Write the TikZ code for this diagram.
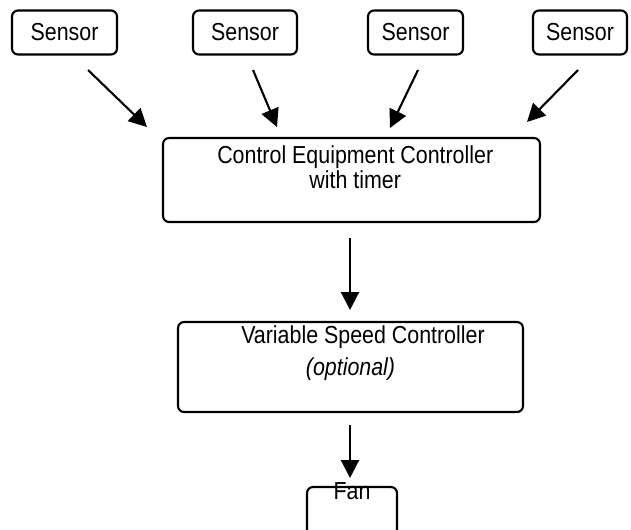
\documentclass[tikz,border=0pt]{standalone}
\usepackage{fontspec}
\setmainfont{Liberation Sans}[FakeStretch=0.87]
\usetikzlibrary{arrows.meta, positioning}

\begin{document}
\begin{tikzpicture}[
        x=0.02cm, y=-0.02cm,
        every node/.style={font=\fontsize{14}{14.2}\selectfont},
        box/.style={draw, line width=1.2pt, rounded corners=0.12cm, align=center, inner sep=0pt},
        sensor/.style={box, minimum height=0.88cm},
        arr/.style={line width=1.2pt, -{Triangle[length=0.36cm, width=0.36cm]}}
    ]

    \useasboundingbox (0,0) rectangle (631,529);
    \clip (0,0) rectangle (631,529);

    % Sensors
    \foreach \n/\x/\w in {1/64.5/2.1, 2/245/2.08, 3/415.5/1.9, 4/580/1.88}
        \node[sensor, minimum width=\w cm] (s\n) at (\x,32.5) {Sensor};

    % Controllers
    \node[box, minimum width=7.54cm, minimum height=1.68cm] (ctrl) at (351.5,180)
        {\hspace*{0.15cm}Control Equipment Controller\\\hspace*{0.15cm}with timer\\\mbox{}};
    \node[box, minimum width=6.9cm, minimum height=1.8cm] (vsc) at (350.5,367)
        {\hspace*{0.5cm}Variable Speed Controller\\[4pt]\textit{(optional)}\\[4pt]\mbox{}};

    % Fan (cut off at the bottom)
    \node[box, minimum width=1.8cm, minimum height=1.86cm,
        label={[anchor=center, yshift=-0.1cm]north:Fan}] (fan) at (352,533.5) {};

    % Sensor arrows
    \foreach \n/\xa/\xb/\yb in {1/88/147/127, 2/253/277/127, 3/418/390/128, 4/578/527/122}{
        \coordinate (s\n out) at (\xa,70);
        \coordinate (ctrl in\n) at (\xb,\yb);
        \draw[arr] (s\n out) -- (ctrl in\n);
    }

    % Down the chain
    \coordinate (ctrl out) at (350,238);
    \coordinate (vsc in) at (350,310);
    \coordinate (vsc out) at (350,425);
    \coordinate (fan in) at (350,478);
    \draw[arr] (ctrl out) -- (vsc in);
    \draw[arr] (vsc out) -- (fan in);

\end{tikzpicture}
\end{document}
